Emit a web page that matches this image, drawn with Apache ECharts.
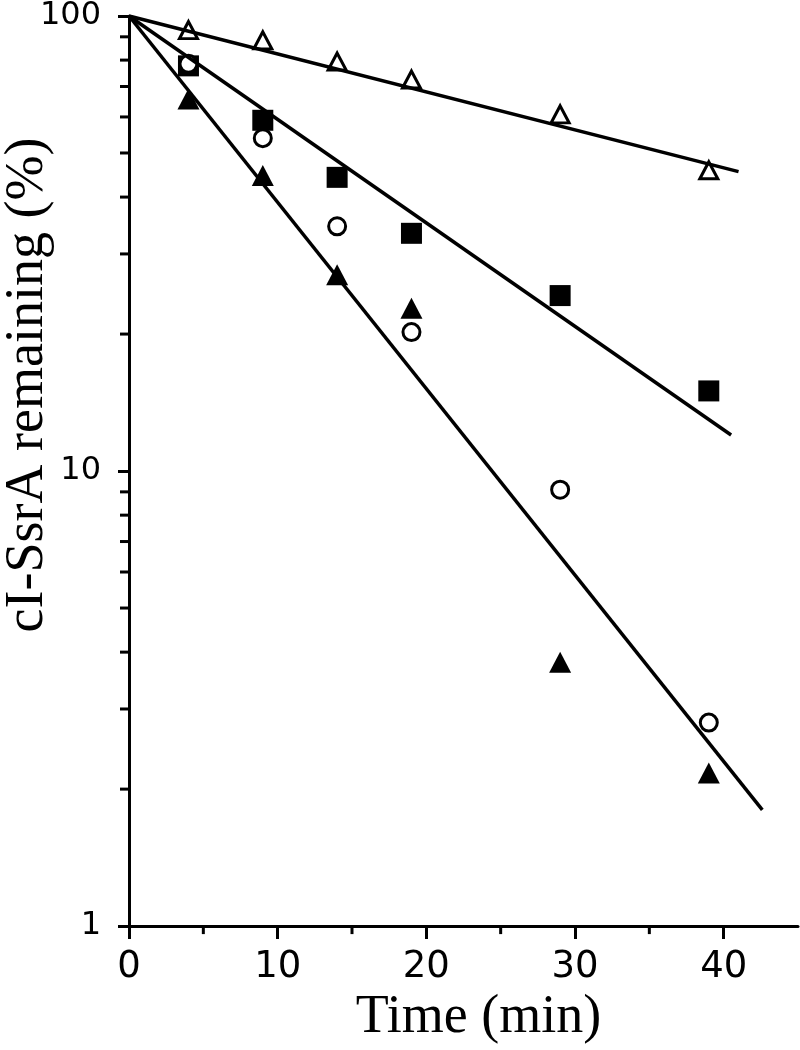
<!DOCTYPE html>
<html>
<head>
<meta charset="utf-8">
<title>cI-SsrA remaining</title>
<script src="https://cdn.jsdelivr.net/npm/echarts@6.0.0/dist/echarts.min.js"></script>
<style>
  html, body { margin: 0; padding: 0; background: #fff; }
  #chart { width: 800px; height: 1050px; }
</style>
</head>
<body>
<div id="chart"></div>
<script>
// 数据
const times = [4, 9, 14, 19, 29, 39]
const openTriangle = [93.1, 88.4, 79.4, 72.5, 60.8, 45.8]
const filledSquare = [77.7, 59.0, 44.2, 33.3, 24.3, 15.0]
const openCircle = [78.5, 53.9, 34.5, 20.2, 9.1, 2.8]
const filledTriangle = [65.7, 44.6, 27.0, 22.8, 3.8, 2.17]

// 拟合直线的两个端点
const fitOpenTriangle = [[0, 100], [41.0, 45.5]]
const fitFilledSquare = [[0, 100], [40.5, 12.0]]
const fitFilledTriangle = [[0, 100], [42.6, 1.8]]

// 刻度
const xMajorTicks = [0, 10, 20, 30, 40]
const xMinorTicks = [5, 15, 25, 35]
const yMinorTicks = [2, 3, 4, 5, 6, 7, 8, 9, 20, 30, 40, 50, 60, 70, 80, 90]

const pair = (xs, ys) => xs.map((t, i) => [t, ys[i]])

function initChart () {
  const chartInstance = echarts.init(document.getElementById('chart'))

  const lineSeries = (data) => ({
    type: 'line',
    data: data,
    showSymbol: false,
    silent: true,
    lineStyle: { color: '#000', width: 3.5 }
  })

  // 次刻度: 用小矩形标记按坐标轴定位, 向轴外偏移
  const tickSeries = (data, isX) => ({
    type: 'scatter',
    silent: true,
    clip: false,
    z: 5,
    data: data,
    symbol: 'rect',
    symbolSize: isX ? [3, 8] : [9, 3],
    symbolOffset: isX ? [0, 4] : [-4.5, 0],
    itemStyle: { color: '#000', opacity: 1 }
  })

  const option = {
    animation: false,
    backgroundColor: '#fff',
    grid: { left: 129, top: 12, width: 669, height: 920 },
    xAxis: {
      type: 'value',
      min: 0,
      max: 45,
      interval: 10,
      name: 'Time (min)',
      nameLocation: 'middle',
      nameGap: 60,
      nameTextStyle: {
        fontFamily: 'Liberation Serif',
        fontSize: 54,
        color: '#000',
        padding: [0, 0, 0, 30]
      },
      axisLine: { lineStyle: { color: '#000', width: 3 } },
      axisTick: { length: 13, lineStyle: { color: '#000', width: 3 }, customValues: xMajorTicks },
      axisLabel: {
        customValues: xMajorTicks,
        margin: 23,
        fontFamily: 'DejaVu Sans',
        fontSize: 37,
        color: '#000'
      },
      splitLine: { show: false }
    },
    yAxis: {
      type: 'log',
      logBase: 10,
      min: 1,
      max: 100,
      axisLine: { show: true, lineStyle: { color: '#000', width: 3 } },
      axisTick: { show: true, length: 11, lineStyle: { color: '#000', width: 3 } },
      axisLabel: {
        margin: 28,
        fontFamily: 'DejaVu Sans',
        fontSize: 32,
        color: '#000'
      },
      splitLine: { show: false }
    },
    graphic: [{
      type: 'text',
      x: 28,
      y: 385,
      rotation: Math.PI / 2,
      style: {
        text: 'cI-SsrA remaining (%)',
        font: '54px "Liberation Serif"',
        fill: '#000',
        align: 'center',
        verticalAlign: 'middle'
      }
    }],
    series: [
      lineSeries(fitOpenTriangle),
      lineSeries(fitFilledSquare),
      lineSeries(fitFilledTriangle),
      tickSeries(xMinorTicks.map(v => [v, 1]), true),
      tickSeries(yMinorTicks.map(v => [0, v]), false),
      {
        type: 'scatter',
        data: pair(times, openTriangle),
        symbol: 'triangle',
        symbolSize: [18, 17],
        itemStyle: { color: '#fff', borderColor: '#000', borderWidth: 3, opacity: 1 }
      },
      {
        type: 'scatter',
        data: pair(times, filledSquare),
        symbol: 'rect',
        symbolSize: 21,
        itemStyle: { color: '#000', opacity: 1 }
      },
      {
        type: 'scatter',
        data: pair(times, filledTriangle),
        symbol: 'triangle',
        symbolSize: [22, 21],
        itemStyle: { color: '#000', opacity: 1 }
      },
      {
        type: 'scatter',
        data: pair(times, openCircle),
        symbol: 'circle',
        symbolSize: 17,
        itemStyle: { color: '#fff', borderColor: '#000', borderWidth: 3, opacity: 1 }
      }
    ]
  }
  chartInstance.setOption(option)
}

initChart()
</script>
</body>
</html>
